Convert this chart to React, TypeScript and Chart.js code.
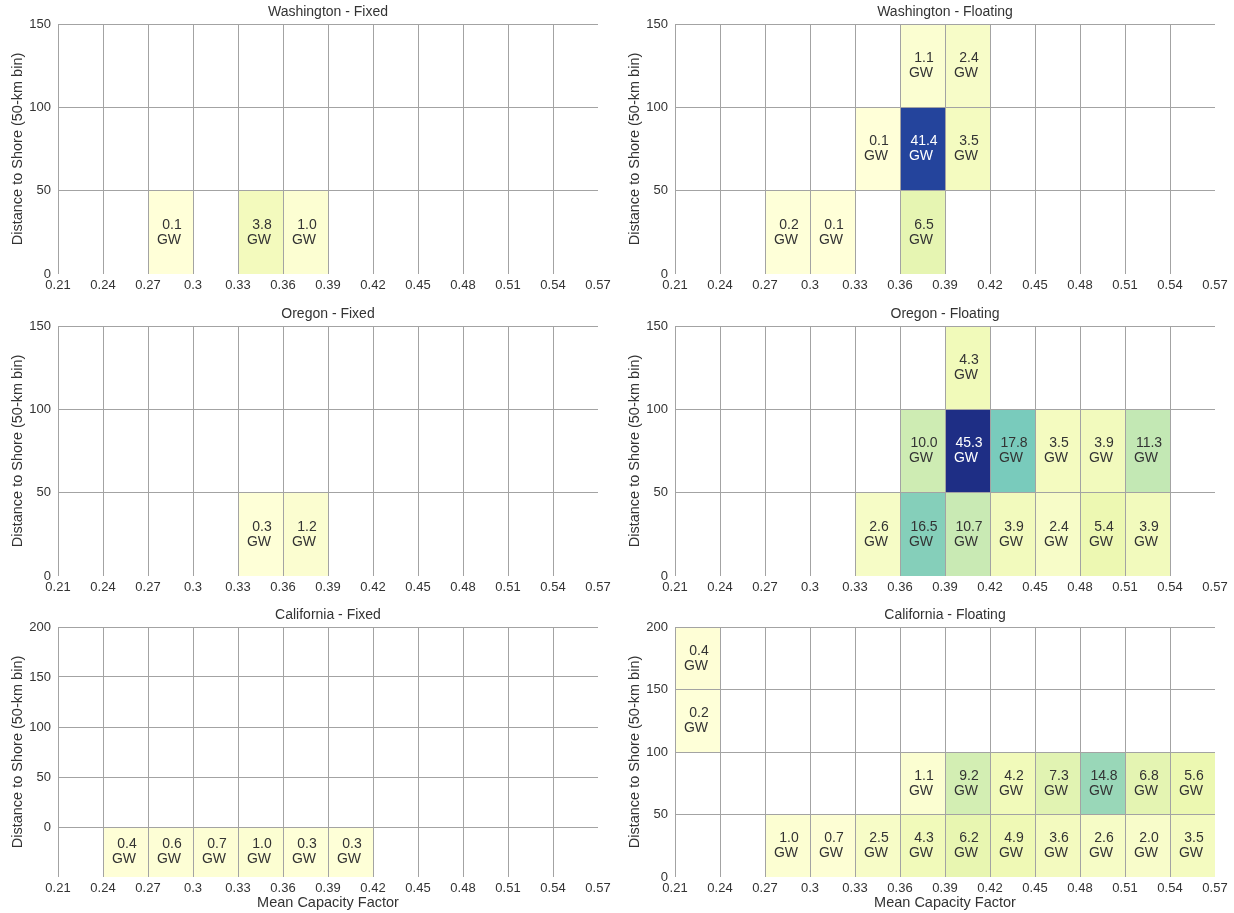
import React, { useEffect, useRef } from "react";
import { Chart, registerables } from "chart.js";

Chart.register(...registerables);
Chart.defaults.font.family = "'Liberation Sans', Arial, sans-serif";
Chart.defaults.color = "#333333";

// ---------- axes / bins ----------
const CF_TICKS = [0.21, 0.24, 0.27, 0.3, 0.33, 0.36, 0.39, 0.42, 0.45, 0.48, 0.51, 0.54, 0.57];
const DIST_TICKS_150 = [0, 50, 100, 150];
const DIST_TICKS_CA_FIXED = [-50, 0, 50, 100, 150, 200];
const DIST_TICKS_CA_FLOAT = [0, 50, 100, 150, 200];
const CF_BIN = 0.03;
const DIST_BIN = 50;
const VMAX = 50;

// ---------- Washington - Fixed ----------
const waFixedCF = [0.27, 0.33, 0.36];
const waFixedDist = [0, 0, 0];
const waFixedGW = [0.1, 3.8, 1.0];

// ---------- Washington - Floating ----------
const waFloatCF = [0.27, 0.3, 0.36, 0.33, 0.36, 0.39, 0.36, 0.39];
const waFloatDist = [0, 0, 0, 50, 50, 50, 100, 100];
const waFloatGW = [0.2, 0.1, 6.5, 0.1, 41.4, 3.5, 1.1, 2.4];

// ---------- Oregon - Fixed ----------
const orFixedCF = [0.33, 0.36];
const orFixedDist = [0, 0];
const orFixedGW = [0.3, 1.2];

// ---------- Oregon - Floating ----------
const orFloatCF = [0.33, 0.36, 0.39, 0.42, 0.45, 0.48, 0.51, 0.36, 0.39, 0.42, 0.45, 0.48, 0.51, 0.39];
const orFloatDist = [0, 0, 0, 0, 0, 0, 0, 50, 50, 50, 50, 50, 50, 100];
const orFloatGW = [2.6, 16.5, 10.7, 3.9, 2.4, 5.4, 3.9, 10.0, 45.3, 17.8, 3.5, 3.9, 11.3, 4.3];

// ---------- California - Fixed ----------
const caFixedCF = [0.24, 0.27, 0.3, 0.33, 0.36, 0.39];
const caFixedDist = [-50, -50, -50, -50, -50, -50];
const caFixedGW = [0.4, 0.6, 0.7, 1.0, 0.3, 0.3];

// ---------- California - Floating ----------
const caFloatCF = [0.27, 0.3, 0.33, 0.36, 0.39, 0.42, 0.45, 0.48, 0.51, 0.54, 0.36, 0.39, 0.42, 0.45, 0.48, 0.51, 0.54, 0.21, 0.21];
const caFloatDist = [0, 0, 0, 0, 0, 0, 0, 0, 0, 0, 50, 50, 50, 50, 50, 50, 50, 100, 150];
const caFloatGW = [1.0, 0.7, 2.5, 4.3, 6.2, 4.9, 3.6, 2.6, 2.0, 3.5, 1.1, 9.2, 4.2, 7.3, 14.8, 6.8, 5.6, 0.2, 0.4];

// ---------- colormap (YlGnBu-like) ----------
const CMAP_POS = [0, 0.11, 0.22, 0.34, 0.5, 0.625, 0.75, 0.875, 1];
const CMAP_COL = ["#ffffd9", "#edf8b1", "#c7e9b4", "#7fcdbb", "#41b6c4", "#1d91c0", "#225ea8", "#253494", "#081d58"];
function hexToRgb(h: string) {
  return [parseInt(h.slice(1, 3), 16), parseInt(h.slice(3, 5), 16), parseInt(h.slice(5, 7), 16)];
}
function cmap(t: number) {
  const tt = Math.max(0, Math.min(1, t));
  let i = 0;
  while (i < CMAP_POS.length - 2 && tt > CMAP_POS[i + 1]) i++;
  const f = (tt - CMAP_POS[i]) / (CMAP_POS[i + 1] - CMAP_POS[i]);
  const a = hexToRgb(CMAP_COL[i]);
  const b = hexToRgb(CMAP_COL[i + 1]);
  const c = a.map((v, k) => Math.round(v + (b[k] - v) * f));
  return `rgb(${c[0]},${c[1]},${c[2]})`;
}

const GRID = "#a3a3a3";

const heatmapPlugin = {
  id: "heatmapCells",
  beforeDatasetsDraw(chart: any) {
    const { ctx, chartArea } = chart;
    const xs = chart.scales.x;
    const ys = chart.scales.y;
    const ds = chart.data.datasets[0];
    ctx.save();
    ctx.beginPath();
    ctx.rect(chartArea.left, chartArea.top, chartArea.right - chartArea.left, chartArea.bottom - chartArea.top);
    ctx.clip();
    for (const d of ds.data as any[]) {
      const x0 = xs.getPixelForValue(d.x0);
      const x1 = xs.getPixelForValue(d.x0 + CF_BIN);
      const y0 = ys.getPixelForValue(d.y0);
      const y1 = ys.getPixelForValue(d.y0 + DIST_BIN);
      const t = d.v / VMAX;
      ctx.fillStyle = cmap(t);
      ctx.fillRect(x0, y1, x1 - x0, y0 - y1);
      const cx = (x0 + x1) / 2;
      const cy = (y0 + y1) / 2;
      ctx.fillStyle = t > 0.6 ? "#ffffff" : "#333333";
      ctx.font = "14px 'Liberation Sans', Arial, sans-serif";
      ctx.textAlign = "center";
      ctx.textBaseline = "middle";
      ctx.fillText(d.v.toFixed(1), cx + 1.5, cy - 7.5);
      ctx.fillText("GW", cx - 1.5, cy + 7.5);
    }
    ctx.restore();
  },
};

type PanelDef = {
  title: string;
  cf: number[];
  dist: number[];
  gw: number[];
  yTicks: number[];
  xTitle: boolean;
  left: number;
  top: number;
  width: number;
  height: number;
  xAxisH: number;
};

function Heatmap({ def }: { def: PanelDef }) {
  const ref = useRef<HTMLCanvasElement>(null);
  useEffect(() => {
    const yMin = def.yTicks[0];
    const yMax = def.yTicks[def.yTicks.length - 1];
    const xMin = CF_TICKS[0];
    const xMax = CF_TICKS[CF_TICKS.length - 1];
    const chart = new Chart(ref.current as HTMLCanvasElement, {
      type: "scatter",
      data: {
        datasets: [
          {
            data: def.cf.map((c, i) => ({
              x: c + CF_BIN / 2,
              y: def.dist[i] + DIST_BIN / 2,
              x0: c,
              y0: def.dist[i],
              v: def.gw[i],
            })) as any,
            pointRadius: 0,
            pointHoverRadius: 0,
          },
        ],
      },
      options: {
        animation: false,
        responsive: false,
        events: [],
        layout: { padding: { left: 0, right: 19, top: 0, bottom: 0 } },
        plugins: {
          legend: { display: false },
          tooltip: { enabled: false },
          title: {
            display: true,
            text: def.title,
            fullSize: false,
            color: "#333333",
            font: { size: 14, weight: "normal", lineHeight: 1.2 },
            padding: { top: 3.5, bottom: 3.7 },
          },
        },
        scales: {
          x: {
            type: "linear",
            min: xMin,
            max: xMax,
            afterBuildTicks: (s: any) => {
              s.ticks = CF_TICKS.map((v) => ({ value: v }));
            },
            afterFit: (s: any) => {
              s.height = def.xAxisH;
            },
            ticks: {
              padding: 4,
              autoSkip: false,
              maxRotation: 0,
              color: "#333333",
              font: { size: 13 },
              callback: (v: any) => String(+Number(v).toFixed(2)),
            },
            grid: {
              z: 1,
              drawTicks: false,
              color: (c: any) => (c.tick && Math.abs(c.tick.value - xMax) < 1e-6 ? "rgba(0,0,0,0)" : GRID),
            },
            border: { display: false },
            title: {
              display: def.xTitle,
              text: "Mean Capacity Factor",
              color: "#333333",
              font: { size: 14.5 },
              padding: { top: 0, bottom: 1.3 },
            },
          },
          y: {
            type: "linear",
            min: yMin,
            max: yMax,
            afterBuildTicks: (s: any) => {
              s.ticks = def.yTicks.map((v) => ({ value: v }));
            },
            afterFit: (s: any) => {
              s.width = 58;
            },
            ticks: {
              padding: 7,
              autoSkip: false,
              color: "#333333",
              font: { size: 13 },
              callback: (v: any) => (Number(v) < 0 ? "" : String(v)),
            },
            grid: {
              z: 1,
              drawTicks: false,
              color: (c: any) => (c.tick && c.tick.value === yMin ? "rgba(0,0,0,0)" : GRID),
            },
            border: { display: false },
            title: {
              display: true,
              text: "Distance to Shore (50-km bin)",
              color: "#333333",
              font: { size: 14.5 },
              padding: { top: 8.8, bottom: 0 },
            },
          },
        },
      } as any,
      plugins: [heatmapPlugin],
    });
    return () => chart.destroy();
  }, []);
  return (
    <canvas
      ref={ref}
      width={def.width}
      height={def.height}
      style={{ position: "absolute", left: def.left, top: def.top, width: def.width, height: def.height }}
    />
  );
}

const ROW_TOPS = [0, 302, 603];
const ROW_HEIGHTS = [302, 301, 310];
const ROW_XAXIS = [28, 27, 36];
const COL_LEFTS = [0, 617];

const PANELS: PanelDef[] = [
  { title: "Washington - Fixed", cf: waFixedCF, dist: waFixedDist, gw: waFixedGW, yTicks: DIST_TICKS_150, r: 0, c: 0 },
  { title: "Washington - Floating", cf: waFloatCF, dist: waFloatDist, gw: waFloatGW, yTicks: DIST_TICKS_150, r: 0, c: 1 },
  { title: "Oregon - Fixed", cf: orFixedCF, dist: orFixedDist, gw: orFixedGW, yTicks: DIST_TICKS_150, r: 1, c: 0 },
  { title: "Oregon - Floating", cf: orFloatCF, dist: orFloatDist, gw: orFloatGW, yTicks: DIST_TICKS_150, r: 1, c: 1 },
  { title: "California - Fixed", cf: caFixedCF, dist: caFixedDist, gw: caFixedGW, yTicks: DIST_TICKS_CA_FIXED, r: 2, c: 0 },
  { title: "California - Floating", cf: caFloatCF, dist: caFloatDist, gw: caFloatGW, yTicks: DIST_TICKS_CA_FLOAT, r: 2, c: 1 },
].map((p: any) => ({
  title: p.title,
  cf: p.cf,
  dist: p.dist,
  gw: p.gw,
  yTicks: p.yTicks,
  xTitle: p.r === 2,
  left: COL_LEFTS[p.c],
  top: ROW_TOPS[p.r],
  width: 617,
  height: ROW_HEIGHTS[p.r],
  xAxisH: ROW_XAXIS[p.r],
}));

export default function App() {
  return (
    <div style={{ position: "absolute", left: 0, top: 0, width: 1234, height: 913, background: "#ffffff" }}>
      {PANELS.map((p) => (
        <Heatmap key={p.title} def={p} />
      ))}
    </div>
  );
}
